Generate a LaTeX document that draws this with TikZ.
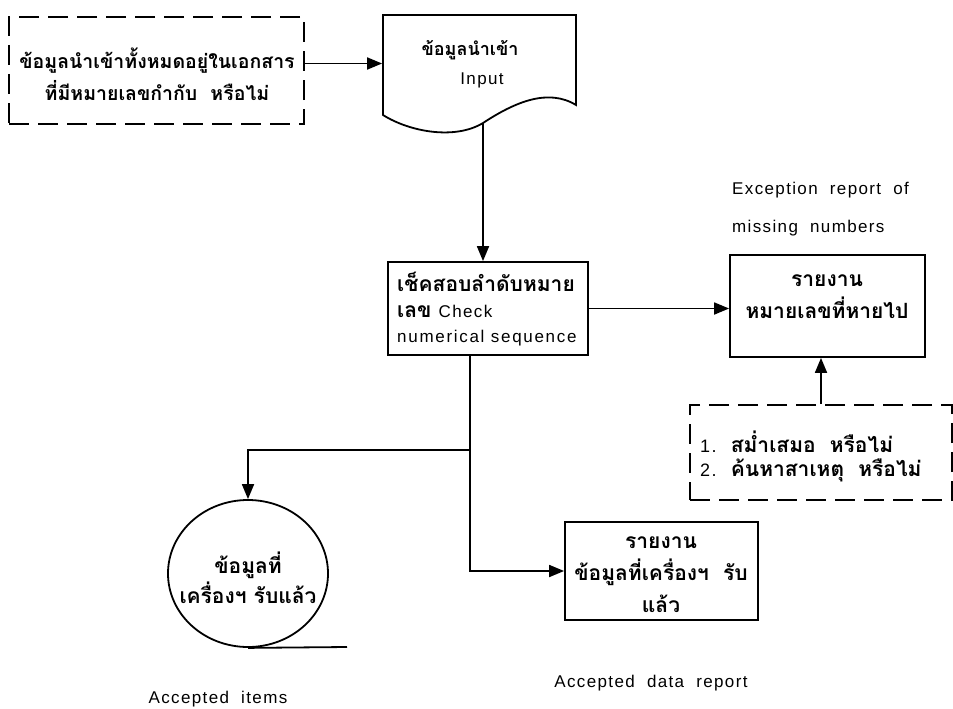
\documentclass[tikz,border=0pt]{standalone}
\usepackage{fontspec}
\setmainfont{Liberation Sans}
\newfontfamily\thai[Script=Thai]{Loma}
\newfontfamily\enfont[LetterSpace=8]{Liberation Sans}
\usetikzlibrary{arrows.meta,calc,shapes.geometric}
\begin{document}
\begin{tikzpicture}[x=1pt,y=-1pt, line width=1.8pt,
  arr/.style={-{Triangle[length=15pt,width=12pt]}},
  dbox/.style={draw,dash pattern=on 20pt off 9pt,rectangle,inner sep=0pt},
  sbox/.style={draw,rectangle,inner sep=0pt},
  th/.style={font=\thai\bfseries\fontsize{21}{32}\selectfont},
  en/.style={font=\enfont\fontsize{17}{28}\selectfont}]
\useasboundingbox (0,0) rectangle (953,709);

% input dashed box
\node[dbox, minimum width=295pt, minimum height=107pt] (box1) at (156.5,70.5) {};
\node[th, align=center, font=\thai\bfseries\fontsize{19.5}{32}\selectfont] (t1) at (157,74) {ข้อมูลนำเข้าทั้งหมดอยู่ในเอกสาร\\ที่มีหมายเลขกำกับ\ \ หรือไม่};

% document shape
\draw (383,115) -- (383,15) -- (576,15) -- (576,105)
  .. controls (548,88) and (515,102) .. (483,123)
  .. controls (455,140) and (410,132) .. (383,115) -- cycle;
\coordinate (docbot) at (483,123);
\node[inner sep=0pt, minimum width=193pt, minimum height=100pt] (doc) at (479.5,65) {};
\node[th, font=\thai\bfseries\fontsize{18}{32}\selectfont] (doct) at (470,50) {ข้อมูลนำเข้า};
\node[en] (doci) at (482,80) {Input};

% check box
\node[sbox, minimum width=200pt, minimum height=93pt] (check) at (488,308.5) {};
\node[th, anchor=west] (c1) at (393,282) {เช็คสอบลำดับหมาย};
\node[th, anchor=west] (c2) at (393,311) {เลข {\enfont\mdseries\fontsize{17}{28}\selectfont Check}};
\node[en, anchor=west, font=\enfont\fontsize{17}{28}\selectfont\addfontfeatures{LetterSpace=10}] (c3) at (393,338) {numerical sequence};

% exception report
\node[sbox, minimum width=195pt, minimum height=102pt] (rep) at (827.5,306) {};
\node[th, align=center] (rept) at (827,297) {รายงาน\\หมายเลขที่หายไป};
\node[en, anchor=west] (ex1) at (728,190) {Exception\ \ report\ \ of};
\node[en, anchor=west] (ex2) at (728,228) {missing\ \ numbers};

% questions dashed box
\node[dbox, minimum width=262pt, minimum height=95pt] (chk2) at (821,452.5) {};
\node[th, anchor=west] (q1) at (696,442) {{\enfont\mdseries\fontsize{18}{28}\selectfont 1.}\ \ สม่ำเสมอ\ \ หรือไม่};
\node[th, anchor=west] (q2) at (696,470) {{\enfont\mdseries\fontsize{18}{28}\selectfont 2.}\ \ ค้นหาสาเหตุ\ \ หรือไม่};

% accepted data report
\node[sbox, minimum width=193pt, minimum height=98pt] (rep2) at (661.5,571) {};
\node[th, align=center] (rep2t) at (661,575) {รายงาน\\ข้อมูลที่เครื่องฯ\ \ รับ\\แล้ว};
\node[en] (acl2) at (651,683) {Accepted\ \ data\ \ report};

% accepted items
\node[draw, ellipse, minimum width=160pt, minimum height=147pt, inner sep=0pt] (acc) at (248,573.5) {};
\node[th, align=center, font=\thai\bfseries\fontsize{21}{30}\selectfont] (acct) at (248,578) {ข้อมูลที่\\เครื่องฯ รับแล้ว};
\coordinate (tl) at (347,647);
\draw (acc.south) -- (tl);
\node[en] (acl1) at (218,699) {Accepted\ \ items};

% connectors
\coordinate (a1) at ($(box1.east)+(0,-7)$);
\draw[arr] (a1) -- (a1 -| doc.west);
\draw[arr] (docbot) -- (docbot |- check.north);
\draw[arr] (check.east) -- (check.east -| rep.west);
\draw[arr] (chk2.north) -- (chk2.north |- rep.south);
\coordinate (split) at (470,450);
\draw (split |- check.south) -- (split);
\draw[arr] (split) -| (acc.north);
\draw[arr] (split) |- (rep2.west);
\end{tikzpicture}
\end{document}
